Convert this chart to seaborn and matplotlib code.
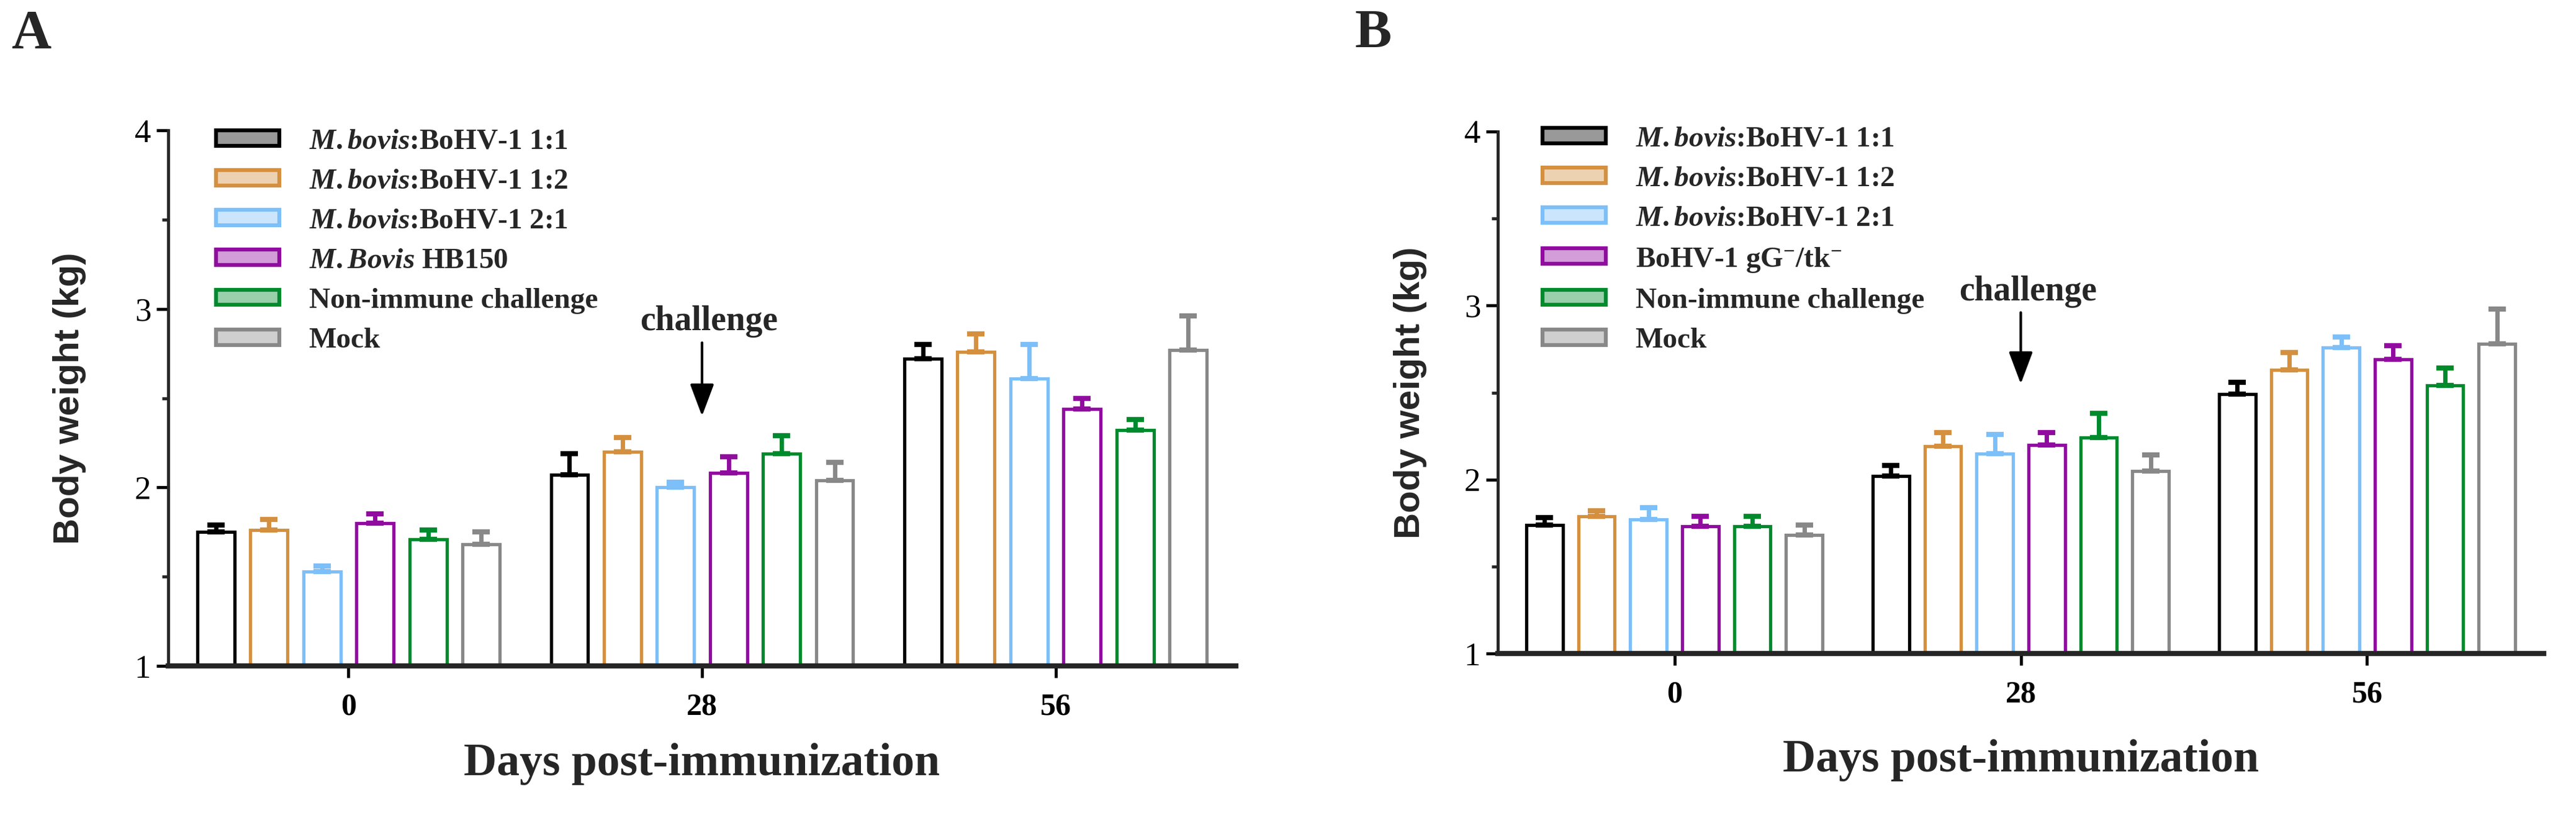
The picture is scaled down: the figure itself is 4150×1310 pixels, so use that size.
import seaborn as sns
import matplotlib.pyplot as plt
import pandas as pd
from matplotlib.patches import Patch
from matplotlib.ticker import MultipleLocator

days = ["0", "28", "56"]

groups_a = ["M.bovis:BoHV-1 1:1", "M.bovis:BoHV-1 1:2", "M.bovis:BoHV-1 2:1",
            "M.Bovis HB150", "Non-immune challenge", "Mock"]
groups_b = ["M.bovis:BoHV-1 1:1", "M.bovis:BoHV-1 1:2", "M.bovis:BoHV-1 2:1",
            "BoHV-1 gG-/tk-", "Non-immune challenge", "Mock"]

labels_a = [r"$\mathit{M.bovis}$:BoHV-1 1:1", r"$\mathit{M.bovis}$:BoHV-1 1:2",
            r"$\mathit{M.bovis}$:BoHV-1 2:1", r"$\mathit{M.Bovis}$ HB150",
            "Non-immune challenge", "Mock"]
labels_b = [r"$\mathit{M.bovis}$:BoHV-1 1:1", r"$\mathit{M.bovis}$:BoHV-1 1:2",
            r"$\mathit{M.bovis}$:BoHV-1 2:1", r"BoHV-1 gG$^{-}$/tk$^{-}$",
            "Non-immune challenge", "Mock"]

colors = ["#000000", "#D4903F", "#7DBFF8", "#900C9F", "#008A2E", "#888888"]

# mean body weight (kg) per group, values for day 0, 28, 56
mean_a = [[1.75, 2.07, 2.72],
          [1.76, 2.20, 2.76],
          [1.53, 2.00, 2.61],
          [1.80, 2.08, 2.44],
          [1.71, 2.19, 2.32],
          [1.68, 2.04, 2.77]]
sem_a = [[0.04, 0.12, 0.08],
         [0.06, 0.08, 0.10],
         [0.03, 0.03, 0.19],
         [0.05, 0.09, 0.06],
         [0.05, 0.10, 0.06],
         [0.07, 0.10, 0.19]]

mean_b = [[1.74, 2.02, 2.49],
          [1.79, 2.19, 2.63],
          [1.77, 2.15, 2.76],
          [1.73, 2.20, 2.69],
          [1.73, 2.24, 2.54],
          [1.68, 2.05, 2.78]]
sem_b = [[0.04, 0.06, 0.07],
         [0.03, 0.08, 0.10],
         [0.07, 0.11, 0.06],
         [0.06, 0.07, 0.08],
         [0.06, 0.14, 0.10],
         [0.06, 0.09, 0.20]]

sns.set_style("ticks")
plt.rcParams["font.family"] = ["Liberation Serif", "DejaVu Serif"]
plt.rcParams["font.weight"] = "bold"
plt.rcParams["mathtext.fontset"] = "custom"
plt.rcParams["mathtext.rm"] = "Liberation Serif:bold"
plt.rcParams["mathtext.it"] = "Liberation Serif:italic:bold"
plt.rcParams["mathtext.bf"] = "Liberation Serif:bold"

W, H = 4150, 1310
fig = plt.figure(figsize=(W / 100, H / 100), dpi=100)


def panel(rect, groups, labels, means, sems, legend_xy, arrow_y, letter, letter_x,
          ylabel_pad, xlabel_pad):
    rows = []
    for g, m in zip(groups, means):
        for d, v in zip(days, m):
            rows.append({"day": d, "group": g, "weight": v})
    df = pd.DataFrame(rows)

    ax = fig.add_axes([rect[0] / W, 1 - rect[3] / H, (rect[2] - rect[0]) / W, (rect[3] - rect[1]) / H])
    sns.barplot(data=df, x="day", y="weight", hue="group", order=days, hue_order=groups,
                palette=colors, errorbar=None, fill=False, width=0.9, gap=0.3,
                linewidth=3.8, legend=False, ax=ax)

    # upper SEM bars on top of each bar
    for cont, col, err in zip(ax.containers, colors, sems):
        xs = [p.get_x() + p.get_width() / 2 for p in cont.patches]
        ys = [p.get_y() + p.get_height() for p in cont.patches]
        ax.errorbar(xs, ys, yerr=[[0] * len(err), err], fmt="none", ecolor=col,
                    elinewidth=5, capsize=10, capthick=6, zorder=3)

    ax.set_ylim(1, 4)
    ax.set_xlim(-0.51, 2.51)
    ax.set_yticks([1, 2, 3, 4])
    ax.yaxis.set_minor_locator(MultipleLocator(0.5))
    sns.despine(ax=ax)
    ax.spines["left"].set_linewidth(3.5)
    ax.spines["bottom"].set_linewidth(6)
    ax.tick_params(axis="both", which="major", length=14, width=3.5, labelsize=36, colors="black")
    ax.tick_params(axis="x", pad=17)
    ax.tick_params(axis="y", pad=6)
    ax.tick_params(axis="y", which="minor", length=7, width=3.5)
    for t in ax.get_yticklabels():
        t.set_fontfamily(["Liberation Serif"])
        t.set_fontweight("normal")
        t.set_fontsize(38)
    ax.set_xlabel("Days post-immunization", fontsize=53, fontweight="bold", labelpad=xlabel_pad)
    ax.set_ylabel("Body weight (kg)", fontsize=42, fontweight="bold",
                  family=["Liberation Sans"], labelpad=ylabel_pad)

    handles = [Patch(facecolor=(c, 0.4), edgecolor=c, linewidth=4.5) for c in colors]
    ax.legend(handles, labels, loc="upper left", frameon=False,
              bbox_to_anchor=(legend_xy[0] / W, 1 - legend_xy[1] / H),
              bbox_transform=fig.transFigure, fontsize=34, borderpad=0,
              borderaxespad=0, handlelength=2.17, handleheight=0.43,
              handletextpad=1.0, labelspacing=0.47)

    ax.annotate("", xy=(1, arrow_y[2]), xytext=(1, arrow_y[1]),
                arrowprops=dict(arrowstyle="-|>,head_length=1.6,head_width=0.6",
                                mutation_scale=20, lw=3, color="black"))
    ax.text(1.02, arrow_y[0], "challenge", ha="center", va="center", fontsize=40,
            fontweight="bold")
    fig.text(letter_x / W, 1 - 55 / H, letter, ha="center", va="center",
             fontsize=64, fontweight="bold")
    return ax


panel((271, 210, 1991, 1073), groups_a, labels_a, mean_a, sem_a,
      (348, 207), (2.93, 2.82, 2.39), "A", 50, 56, 25)
panel((2413, 212, 4098, 1053), groups_b, labels_b, mean_b, sem_b,
      (2485, 203), (3.08, 2.97, 2.54), "B", 2212, 43, 35)

fig.savefig("out.png", dpi=100)
